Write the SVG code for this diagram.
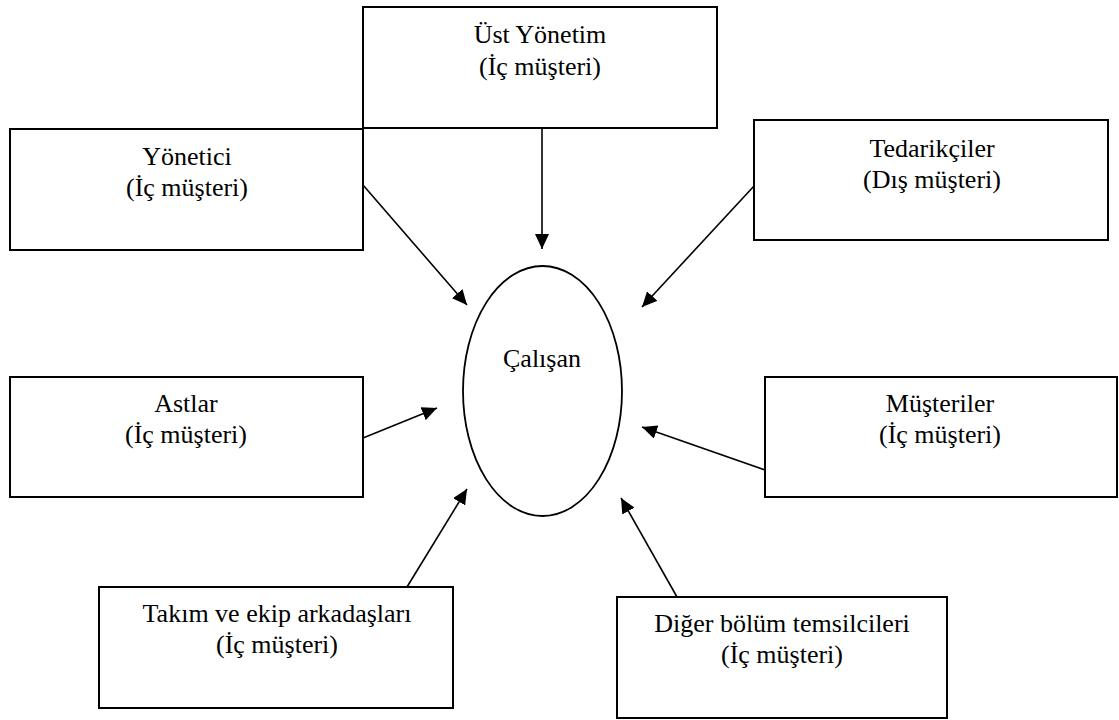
<svg xmlns="http://www.w3.org/2000/svg" width="1119" height="720" viewBox="0 0 1119 720">
<style>
.box{fill:none;stroke:#000;stroke-width:2}
.lbl{font-family:"Liberation Serif","Times New Roman",serif;font-size:26px;fill:#000;text-anchor:middle}
.conn{stroke:#000;stroke-width:1.6;fill:none;marker-end:url(#ah)}
</style>
<defs>
<marker id="ah" markerUnits="userSpaceOnUse" markerWidth="16" markerHeight="14" refX="15" refY="7" orient="auto">
<path d="M0,0 L15,7 L0,14 z" fill="#000"/>
</marker>
</defs>
<rect width="1119" height="720" fill="#fff"/>
<g id="ust-yonetim">
<rect class="box" x="363" y="7" width="354" height="121"/>
<text class="lbl" x="540" y="43">Üst Yönetim</text>
<text class="lbl" x="540" y="75">(İç müşteri)</text>
</g>
<g id="yonetici">
<rect class="box" x="10" y="129" width="353" height="121"/>
<text class="lbl" x="187" y="165">Yönetici</text>
<text class="lbl" x="187" y="196">(İç müşteri)</text>
</g>
<g id="tedarikciler">
<rect class="box" x="754" y="120" width="354" height="120"/>
<text class="lbl" x="932" y="157">Tedarikçiler</text>
<text class="lbl" x="932" y="188">(Dış müşteri)</text>
</g>
<g id="astlar">
<rect class="box" x="10" y="377" width="353" height="120"/>
<text class="lbl" x="186" y="412">Astlar</text>
<text class="lbl" x="186" y="443">(İç müşteri)</text>
</g>
<g id="musteriler">
<rect class="box" x="765" y="377" width="352" height="120"/>
<text class="lbl" x="940" y="412">Müşteriler</text>
<text class="lbl" x="940" y="443">(İç müşteri)</text>
</g>
<g id="takim">
<rect class="box" x="99" y="587" width="354" height="121"/>
<text class="lbl" x="277" y="622">Takım ve ekip arkadaşları</text>
<text class="lbl" x="277" y="653">(İç müşteri)</text>
</g>
<g id="diger">
<rect class="box" x="617" y="597" width="330" height="121"/>
<text class="lbl" x="782" y="632">Diğer bölüm temsilcileri</text>
<text class="lbl" x="782" y="663">(İç müşteri)</text>
</g>
<g id="calisan">
<ellipse cx="542.5" cy="391" rx="79.5" ry="125" fill="none" stroke="#000" stroke-width="1.8"/>
<text class="lbl" x="542" y="367">Çalışan</text>
</g>
<g id="connectors">
<line class="conn" x1="542" y1="128" x2="542" y2="249"/>
<line class="conn" x1="363" y1="185" x2="467" y2="305"/>
<line class="conn" x1="754" y1="186" x2="642" y2="307"/>
<line class="conn" x1="363" y1="438" x2="437" y2="408"/>
<line class="conn" x1="765" y1="470" x2="642" y2="427"/>
<line class="conn" x1="407" y1="587" x2="467" y2="489"/>
<line class="conn" x1="677" y1="597" x2="621" y2="498"/>
</g>
</svg>
